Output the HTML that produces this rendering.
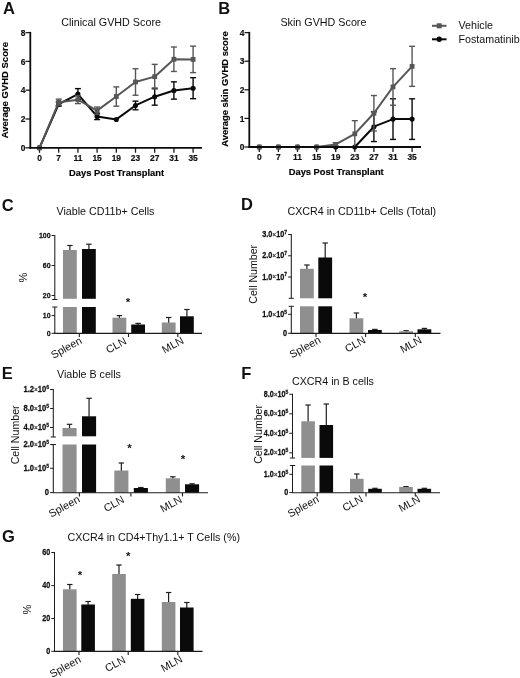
<!DOCTYPE html>
<html lang="en">
<head>
<meta charset="utf-8">
<title>Figure</title>
<style>
html,body{margin:0;padding:0;background:#fff;}
body{width:520px;height:678px;overflow:hidden;}
svg{display:block;font-family:"Liberation Sans",sans-serif;}
</style>
</head>
<body>
<svg width="520" height="678" viewBox="0 0 520 678">
<rect x="0" y="0" width="520" height="678" fill="#ffffff"/>
<text x="2.9" y="13.6" font-size="16.5" font-weight="bold" text-anchor="start" fill="#111">A</text>
<text x="61.2" y="26.0" font-size="10.75" font-weight="normal" text-anchor="start" fill="#111">Clinical GVHD Score</text>
<text x="8.1" y="90.2" font-size="9.5" font-weight="bold" text-anchor="middle" fill="#000" transform="rotate(-90 8.1 90.2)" stroke="#000" stroke-width="0.15">Average GVHD Score</text>
<text x="69.1" y="176.3" font-size="9.35" font-weight="bold" text-anchor="start" fill="#000" stroke="#000" stroke-width="0.15">Days Post Transplant</text>
<line x1="25.5" y1="147.8" x2="30.3" y2="147.8" stroke="#1c1c1c" stroke-width="1.3" stroke-linecap="butt"/>
<text transform="translate(25.3 150.9) scale(1 1.06)" font-size="8.4" font-weight="bold" text-anchor="end" fill="#111" stroke="#111" stroke-width="0.2">0</text>
<line x1="25.5" y1="119.00000000000001" x2="30.3" y2="119.00000000000001" stroke="#1c1c1c" stroke-width="1.3" stroke-linecap="butt"/>
<text transform="translate(25.3 122.1) scale(1 1.06)" font-size="8.4" font-weight="bold" text-anchor="end" fill="#111" stroke="#111" stroke-width="0.2">2</text>
<line x1="25.5" y1="90.20000000000002" x2="30.3" y2="90.20000000000002" stroke="#1c1c1c" stroke-width="1.3" stroke-linecap="butt"/>
<text transform="translate(25.3 93.3) scale(1 1.06)" font-size="8.4" font-weight="bold" text-anchor="end" fill="#111" stroke="#111" stroke-width="0.2">4</text>
<line x1="25.5" y1="61.400000000000006" x2="30.3" y2="61.400000000000006" stroke="#1c1c1c" stroke-width="1.3" stroke-linecap="butt"/>
<text transform="translate(25.3 64.5) scale(1 1.06)" font-size="8.4" font-weight="bold" text-anchor="end" fill="#111" stroke="#111" stroke-width="0.2">6</text>
<line x1="25.5" y1="32.60000000000001" x2="30.3" y2="32.60000000000001" stroke="#1c1c1c" stroke-width="1.3" stroke-linecap="butt"/>
<text transform="translate(25.3 35.7) scale(1 1.06)" font-size="8.4" font-weight="bold" text-anchor="end" fill="#111" stroke="#111" stroke-width="0.2">8</text>
<line x1="39.5" y1="147.8" x2="39.5" y2="152.8" stroke="#1c1c1c" stroke-width="1.3" stroke-linecap="butt"/>
<text transform="translate(39.5 161.2) scale(1 1.06)" font-size="8.4" font-weight="bold" text-anchor="middle" fill="#111" stroke="#111" stroke-width="0.2">0</text>
<line x1="58.7" y1="147.8" x2="58.7" y2="152.8" stroke="#1c1c1c" stroke-width="1.3" stroke-linecap="butt"/>
<text transform="translate(58.7 161.2) scale(1 1.06)" font-size="8.4" font-weight="bold" text-anchor="middle" fill="#111" stroke="#111" stroke-width="0.2">7</text>
<line x1="77.9" y1="147.8" x2="77.9" y2="152.8" stroke="#1c1c1c" stroke-width="1.3" stroke-linecap="butt"/>
<text transform="translate(77.9 161.2) scale(1 1.06)" font-size="8.4" font-weight="bold" text-anchor="middle" fill="#111" stroke="#111" stroke-width="0.2">11</text>
<line x1="97.1" y1="147.8" x2="97.1" y2="152.8" stroke="#1c1c1c" stroke-width="1.3" stroke-linecap="butt"/>
<text transform="translate(97.1 161.2) scale(1 1.06)" font-size="8.4" font-weight="bold" text-anchor="middle" fill="#111" stroke="#111" stroke-width="0.2">15</text>
<line x1="116.3" y1="147.8" x2="116.3" y2="152.8" stroke="#1c1c1c" stroke-width="1.3" stroke-linecap="butt"/>
<text transform="translate(116.3 161.2) scale(1 1.06)" font-size="8.4" font-weight="bold" text-anchor="middle" fill="#111" stroke="#111" stroke-width="0.2">19</text>
<line x1="135.5" y1="147.8" x2="135.5" y2="152.8" stroke="#1c1c1c" stroke-width="1.3" stroke-linecap="butt"/>
<text transform="translate(135.5 161.2) scale(1 1.06)" font-size="8.4" font-weight="bold" text-anchor="middle" fill="#111" stroke="#111" stroke-width="0.2">23</text>
<line x1="154.7" y1="147.8" x2="154.7" y2="152.8" stroke="#1c1c1c" stroke-width="1.3" stroke-linecap="butt"/>
<text transform="translate(154.7 161.2) scale(1 1.06)" font-size="8.4" font-weight="bold" text-anchor="middle" fill="#111" stroke="#111" stroke-width="0.2">27</text>
<line x1="173.9" y1="147.8" x2="173.9" y2="152.8" stroke="#1c1c1c" stroke-width="1.3" stroke-linecap="butt"/>
<text transform="translate(173.9 161.2) scale(1 1.06)" font-size="8.4" font-weight="bold" text-anchor="middle" fill="#111" stroke="#111" stroke-width="0.2">31</text>
<line x1="193.1" y1="147.8" x2="193.1" y2="152.8" stroke="#1c1c1c" stroke-width="1.3" stroke-linecap="butt"/>
<text transform="translate(193.1 161.2) scale(1 1.06)" font-size="8.4" font-weight="bold" text-anchor="middle" fill="#111" stroke="#111" stroke-width="0.2">35</text>
<line x1="58.7" y1="101.864" x2="58.7" y2="106.184" stroke="#0a0a0a" stroke-width="1.4" stroke-linecap="butt"/>
<line x1="55.7" y1="101.864" x2="61.7" y2="101.864" stroke="#0a0a0a" stroke-width="1.4" stroke-linecap="butt"/>
<line x1="55.7" y1="106.184" x2="61.7" y2="106.184" stroke="#0a0a0a" stroke-width="1.4" stroke-linecap="butt"/>
<line x1="77.9" y1="88.61600000000001" x2="77.9" y2="99.56" stroke="#0a0a0a" stroke-width="1.4" stroke-linecap="butt"/>
<line x1="74.9" y1="88.61600000000001" x2="80.9" y2="88.61600000000001" stroke="#0a0a0a" stroke-width="1.4" stroke-linecap="butt"/>
<line x1="74.9" y1="99.56" x2="80.9" y2="99.56" stroke="#0a0a0a" stroke-width="1.4" stroke-linecap="butt"/>
<line x1="97.1" y1="113.24000000000001" x2="97.1" y2="119.57600000000002" stroke="#0a0a0a" stroke-width="1.4" stroke-linecap="butt"/>
<line x1="94.1" y1="113.24000000000001" x2="100.1" y2="113.24000000000001" stroke="#0a0a0a" stroke-width="1.4" stroke-linecap="butt"/>
<line x1="94.1" y1="119.57600000000002" x2="100.1" y2="119.57600000000002" stroke="#0a0a0a" stroke-width="1.4" stroke-linecap="butt"/>
<line x1="135.5" y1="101.144" x2="135.5" y2="109.78400000000002" stroke="#0a0a0a" stroke-width="1.4" stroke-linecap="butt"/>
<line x1="132.5" y1="101.144" x2="138.5" y2="101.144" stroke="#0a0a0a" stroke-width="1.4" stroke-linecap="butt"/>
<line x1="132.5" y1="109.78400000000002" x2="138.5" y2="109.78400000000002" stroke="#0a0a0a" stroke-width="1.4" stroke-linecap="butt"/>
<line x1="154.7" y1="88.18400000000001" x2="154.7" y2="105.176" stroke="#0a0a0a" stroke-width="1.4" stroke-linecap="butt"/>
<line x1="151.7" y1="88.18400000000001" x2="157.7" y2="88.18400000000001" stroke="#0a0a0a" stroke-width="1.4" stroke-linecap="butt"/>
<line x1="151.7" y1="105.176" x2="157.7" y2="105.176" stroke="#0a0a0a" stroke-width="1.4" stroke-linecap="butt"/>
<line x1="173.9" y1="81.84800000000001" x2="173.9" y2="99.12800000000001" stroke="#0a0a0a" stroke-width="1.4" stroke-linecap="butt"/>
<line x1="170.9" y1="81.84800000000001" x2="176.9" y2="81.84800000000001" stroke="#0a0a0a" stroke-width="1.4" stroke-linecap="butt"/>
<line x1="170.9" y1="99.12800000000001" x2="176.9" y2="99.12800000000001" stroke="#0a0a0a" stroke-width="1.4" stroke-linecap="butt"/>
<line x1="193.1" y1="77.67200000000001" x2="193.1" y2="98.69600000000001" stroke="#0a0a0a" stroke-width="1.4" stroke-linecap="butt"/>
<line x1="190.1" y1="77.67200000000001" x2="196.1" y2="77.67200000000001" stroke="#0a0a0a" stroke-width="1.4" stroke-linecap="butt"/>
<line x1="190.1" y1="98.69600000000001" x2="196.1" y2="98.69600000000001" stroke="#0a0a0a" stroke-width="1.4" stroke-linecap="butt"/>
<polyline fill="none" stroke="#0a0a0a" stroke-width="2" stroke-linejoin="round" points="39.50,147.80 58.70,104.02 77.90,94.09 97.10,116.41 116.30,119.43 135.50,105.46 154.70,96.68 173.90,90.49 193.10,88.18"/>
<circle cx="39.50" cy="147.80" r="2.55" fill="#0a0a0a"/>
<circle cx="58.70" cy="104.02" r="2.55" fill="#0a0a0a"/>
<circle cx="77.90" cy="94.09" r="2.55" fill="#0a0a0a"/>
<circle cx="97.10" cy="116.41" r="2.55" fill="#0a0a0a"/>
<circle cx="116.30" cy="119.43" r="2.55" fill="#0a0a0a"/>
<circle cx="135.50" cy="105.46" r="2.55" fill="#0a0a0a"/>
<circle cx="154.70" cy="96.68" r="2.55" fill="#0a0a0a"/>
<circle cx="173.90" cy="90.49" r="2.55" fill="#0a0a0a"/>
<circle cx="193.10" cy="88.18" r="2.55" fill="#0a0a0a"/>
<line x1="58.7" y1="99.128" x2="58.7" y2="105.46400000000001" stroke="#565656" stroke-width="1.4" stroke-linecap="butt"/>
<line x1="55.7" y1="99.128" x2="61.7" y2="99.128" stroke="#565656" stroke-width="1.4" stroke-linecap="butt"/>
<line x1="55.7" y1="105.46400000000001" x2="61.7" y2="105.46400000000001" stroke="#565656" stroke-width="1.4" stroke-linecap="butt"/>
<line x1="77.9" y1="95.816" x2="77.9" y2="103.59200000000001" stroke="#565656" stroke-width="1.4" stroke-linecap="butt"/>
<line x1="74.9" y1="95.816" x2="80.9" y2="95.816" stroke="#565656" stroke-width="1.4" stroke-linecap="butt"/>
<line x1="74.9" y1="103.59200000000001" x2="80.9" y2="103.59200000000001" stroke="#565656" stroke-width="1.4" stroke-linecap="butt"/>
<line x1="97.1" y1="107.04800000000002" x2="97.1" y2="114.248" stroke="#565656" stroke-width="1.4" stroke-linecap="butt"/>
<line x1="94.1" y1="107.04800000000002" x2="100.1" y2="107.04800000000002" stroke="#565656" stroke-width="1.4" stroke-linecap="butt"/>
<line x1="94.1" y1="114.248" x2="100.1" y2="114.248" stroke="#565656" stroke-width="1.4" stroke-linecap="butt"/>
<line x1="116.3" y1="86.888" x2="116.3" y2="106.184" stroke="#565656" stroke-width="1.4" stroke-linecap="butt"/>
<line x1="113.3" y1="86.888" x2="119.3" y2="86.888" stroke="#565656" stroke-width="1.4" stroke-linecap="butt"/>
<line x1="113.3" y1="106.184" x2="119.3" y2="106.184" stroke="#565656" stroke-width="1.4" stroke-linecap="butt"/>
<line x1="135.5" y1="68.744" x2="135.5" y2="95.24000000000001" stroke="#565656" stroke-width="1.4" stroke-linecap="butt"/>
<line x1="132.5" y1="68.744" x2="138.5" y2="68.744" stroke="#565656" stroke-width="1.4" stroke-linecap="butt"/>
<line x1="132.5" y1="95.24000000000001" x2="138.5" y2="95.24000000000001" stroke="#565656" stroke-width="1.4" stroke-linecap="butt"/>
<line x1="154.7" y1="64.352" x2="154.7" y2="88.976" stroke="#565656" stroke-width="1.4" stroke-linecap="butt"/>
<line x1="151.7" y1="64.352" x2="157.7" y2="64.352" stroke="#565656" stroke-width="1.4" stroke-linecap="butt"/>
<line x1="151.7" y1="88.976" x2="157.7" y2="88.976" stroke="#565656" stroke-width="1.4" stroke-linecap="butt"/>
<line x1="173.9" y1="47.00000000000001" x2="173.9" y2="71.48" stroke="#565656" stroke-width="1.4" stroke-linecap="butt"/>
<line x1="170.9" y1="47.00000000000001" x2="176.9" y2="47.00000000000001" stroke="#565656" stroke-width="1.4" stroke-linecap="butt"/>
<line x1="170.9" y1="71.48" x2="176.9" y2="71.48" stroke="#565656" stroke-width="1.4" stroke-linecap="butt"/>
<line x1="193.1" y1="46.13600000000001" x2="193.1" y2="72.63200000000002" stroke="#565656" stroke-width="1.4" stroke-linecap="butt"/>
<line x1="190.1" y1="46.13600000000001" x2="196.1" y2="46.13600000000001" stroke="#565656" stroke-width="1.4" stroke-linecap="butt"/>
<line x1="190.1" y1="72.63200000000002" x2="196.1" y2="72.63200000000002" stroke="#565656" stroke-width="1.4" stroke-linecap="butt"/>
<polyline fill="none" stroke="#565656" stroke-width="2" stroke-linejoin="round" points="39.50,147.80 58.70,102.30 77.90,99.70 97.10,110.65 116.30,96.54 135.50,81.99 154.70,76.66 173.90,59.24 193.10,59.38"/>
<rect x="37.1" y="145.4" width="4.8" height="4.8" fill="#565656"/>
<rect x="56.3" y="99.9" width="4.8" height="4.8" fill="#565656"/>
<rect x="75.5" y="97.3" width="4.8" height="4.8" fill="#565656"/>
<rect x="94.7" y="108.25" width="4.8" height="4.8" fill="#565656"/>
<rect x="113.9" y="94.14" width="4.8" height="4.8" fill="#565656"/>
<rect x="133.1" y="79.59" width="4.8" height="4.8" fill="#565656"/>
<rect x="152.3" y="74.26" width="4.8" height="4.8" fill="#565656"/>
<rect x="171.5" y="56.84" width="4.8" height="4.8" fill="#565656"/>
<rect x="190.7" y="56.98" width="4.8" height="4.8" fill="#565656"/>
<line x1="30.3" y1="31.90000000000001" x2="30.3" y2="148.70000000000002" stroke="#0c0c0c" stroke-width="1.8" stroke-linecap="butt"/>
<line x1="29.400000000000002" y1="147.8" x2="202" y2="147.8" stroke="#0c0c0c" stroke-width="1.8" stroke-linecap="butt"/>
<text x="218.2" y="13.5" font-size="16.5" font-weight="bold" text-anchor="start" fill="#111">B</text>
<text x="280.4" y="26.0" font-size="10.75" font-weight="normal" text-anchor="start" fill="#111">Skin GVHD Score</text>
<text x="227.6" y="89" font-size="9.4" font-weight="bold" text-anchor="middle" fill="#000" transform="rotate(-90 227.6 89)" stroke="#000" stroke-width="0.15">Average skin GVHD score</text>
<text x="288.7" y="175.4" font-size="9.35" font-weight="bold" text-anchor="start" fill="#000" stroke="#000" stroke-width="0.15">Days Post Transplant</text>
<line x1="244.5" y1="147.0" x2="249.3" y2="147.0" stroke="#1c1c1c" stroke-width="1.3" stroke-linecap="butt"/>
<text transform="translate(244.3 150.1) scale(1 1.06)" font-size="8.4" font-weight="bold" text-anchor="end" fill="#111" stroke="#111" stroke-width="0.2">0</text>
<line x1="244.5" y1="118.4" x2="249.3" y2="118.4" stroke="#1c1c1c" stroke-width="1.3" stroke-linecap="butt"/>
<text transform="translate(244.3 121.5) scale(1 1.06)" font-size="8.4" font-weight="bold" text-anchor="end" fill="#111" stroke="#111" stroke-width="0.2">1</text>
<line x1="244.5" y1="89.8" x2="249.3" y2="89.8" stroke="#1c1c1c" stroke-width="1.3" stroke-linecap="butt"/>
<text transform="translate(244.3 92.9) scale(1 1.06)" font-size="8.4" font-weight="bold" text-anchor="end" fill="#111" stroke="#111" stroke-width="0.2">2</text>
<line x1="244.5" y1="61.19999999999999" x2="249.3" y2="61.19999999999999" stroke="#1c1c1c" stroke-width="1.3" stroke-linecap="butt"/>
<text transform="translate(244.3 64.3) scale(1 1.06)" font-size="8.4" font-weight="bold" text-anchor="end" fill="#111" stroke="#111" stroke-width="0.2">3</text>
<line x1="244.5" y1="32.599999999999994" x2="249.3" y2="32.599999999999994" stroke="#1c1c1c" stroke-width="1.3" stroke-linecap="butt"/>
<text transform="translate(244.3 35.7) scale(1 1.06)" font-size="8.4" font-weight="bold" text-anchor="end" fill="#111" stroke="#111" stroke-width="0.2">4</text>
<line x1="259.3" y1="147" x2="259.3" y2="152.0" stroke="#1c1c1c" stroke-width="1.3" stroke-linecap="butt"/>
<text transform="translate(259.3 160.4) scale(1 1.06)" font-size="8.4" font-weight="bold" text-anchor="middle" fill="#111" stroke="#111" stroke-width="0.2">0</text>
<line x1="278.40000000000003" y1="147" x2="278.40000000000003" y2="152.0" stroke="#1c1c1c" stroke-width="1.3" stroke-linecap="butt"/>
<text transform="translate(278.4 160.4) scale(1 1.06)" font-size="8.4" font-weight="bold" text-anchor="middle" fill="#111" stroke="#111" stroke-width="0.2">7</text>
<line x1="297.5" y1="147" x2="297.5" y2="152.0" stroke="#1c1c1c" stroke-width="1.3" stroke-linecap="butt"/>
<text transform="translate(297.5 160.4) scale(1 1.06)" font-size="8.4" font-weight="bold" text-anchor="middle" fill="#111" stroke="#111" stroke-width="0.2">11</text>
<line x1="316.6" y1="147" x2="316.6" y2="152.0" stroke="#1c1c1c" stroke-width="1.3" stroke-linecap="butt"/>
<text transform="translate(316.6 160.4) scale(1 1.06)" font-size="8.4" font-weight="bold" text-anchor="middle" fill="#111" stroke="#111" stroke-width="0.2">15</text>
<line x1="335.70000000000005" y1="147" x2="335.70000000000005" y2="152.0" stroke="#1c1c1c" stroke-width="1.3" stroke-linecap="butt"/>
<text transform="translate(335.7 160.4) scale(1 1.06)" font-size="8.4" font-weight="bold" text-anchor="middle" fill="#111" stroke="#111" stroke-width="0.2">19</text>
<line x1="354.8" y1="147" x2="354.8" y2="152.0" stroke="#1c1c1c" stroke-width="1.3" stroke-linecap="butt"/>
<text transform="translate(354.8 160.4) scale(1 1.06)" font-size="8.4" font-weight="bold" text-anchor="middle" fill="#111" stroke="#111" stroke-width="0.2">23</text>
<line x1="373.90000000000003" y1="147" x2="373.90000000000003" y2="152.0" stroke="#1c1c1c" stroke-width="1.3" stroke-linecap="butt"/>
<text transform="translate(373.9 160.4) scale(1 1.06)" font-size="8.4" font-weight="bold" text-anchor="middle" fill="#111" stroke="#111" stroke-width="0.2">27</text>
<line x1="393.0" y1="147" x2="393.0" y2="152.0" stroke="#1c1c1c" stroke-width="1.3" stroke-linecap="butt"/>
<text transform="translate(393.0 160.4) scale(1 1.06)" font-size="8.4" font-weight="bold" text-anchor="middle" fill="#111" stroke="#111" stroke-width="0.2">31</text>
<line x1="412.1" y1="147" x2="412.1" y2="152.0" stroke="#1c1c1c" stroke-width="1.3" stroke-linecap="butt"/>
<text transform="translate(412.1 160.4) scale(1 1.06)" font-size="8.4" font-weight="bold" text-anchor="middle" fill="#111" stroke="#111" stroke-width="0.2">35</text>
<line x1="373.90000000000003" y1="111.822" x2="373.90000000000003" y2="141.566" stroke="#0a0a0a" stroke-width="1.4" stroke-linecap="butt"/>
<line x1="370.90000000000003" y1="111.822" x2="376.90000000000003" y2="111.822" stroke="#0a0a0a" stroke-width="1.4" stroke-linecap="butt"/>
<line x1="370.90000000000003" y1="141.566" x2="376.90000000000003" y2="141.566" stroke="#0a0a0a" stroke-width="1.4" stroke-linecap="butt"/>
<line x1="393.0" y1="98.809" x2="393.0" y2="139.421" stroke="#0a0a0a" stroke-width="1.4" stroke-linecap="butt"/>
<line x1="390.0" y1="98.809" x2="396.0" y2="98.809" stroke="#0a0a0a" stroke-width="1.4" stroke-linecap="butt"/>
<line x1="390.0" y1="139.421" x2="396.0" y2="139.421" stroke="#0a0a0a" stroke-width="1.4" stroke-linecap="butt"/>
<line x1="412.1" y1="98.809" x2="412.1" y2="139.421" stroke="#0a0a0a" stroke-width="1.4" stroke-linecap="butt"/>
<line x1="409.1" y1="98.809" x2="415.1" y2="98.809" stroke="#0a0a0a" stroke-width="1.4" stroke-linecap="butt"/>
<line x1="409.1" y1="139.421" x2="415.1" y2="139.421" stroke="#0a0a0a" stroke-width="1.4" stroke-linecap="butt"/>
<polyline fill="none" stroke="#0a0a0a" stroke-width="2" stroke-linejoin="round" points="259.30,147.00 278.40,147.00 297.50,147.00 316.60,147.00 335.70,147.00 354.80,147.00 373.90,126.69 393.00,119.11 412.10,119.11"/>
<circle cx="259.30" cy="147.00" r="2.55" fill="#0a0a0a"/>
<circle cx="278.40" cy="147.00" r="2.55" fill="#0a0a0a"/>
<circle cx="297.50" cy="147.00" r="2.55" fill="#0a0a0a"/>
<circle cx="316.60" cy="147.00" r="2.55" fill="#0a0a0a"/>
<circle cx="335.70" cy="147.00" r="2.55" fill="#0a0a0a"/>
<circle cx="354.80" cy="147.00" r="2.55" fill="#0a0a0a"/>
<circle cx="373.90" cy="126.69" r="2.55" fill="#0a0a0a"/>
<circle cx="393.00" cy="119.11" r="2.55" fill="#0a0a0a"/>
<circle cx="412.10" cy="119.11" r="2.55" fill="#0a0a0a"/>
<line x1="335.70000000000005" y1="142.70999999999998" x2="335.70000000000005" y2="146.142" stroke="#565656" stroke-width="1.4" stroke-linecap="butt"/>
<line x1="332.70000000000005" y1="142.70999999999998" x2="338.70000000000005" y2="142.70999999999998" stroke="#565656" stroke-width="1.4" stroke-linecap="butt"/>
<line x1="332.70000000000005" y1="146.142" x2="338.70000000000005" y2="146.142" stroke="#565656" stroke-width="1.4" stroke-linecap="butt"/>
<line x1="354.8" y1="120.68799999999999" x2="354.8" y2="147.0" stroke="#565656" stroke-width="1.4" stroke-linecap="butt"/>
<line x1="351.8" y1="120.68799999999999" x2="357.8" y2="120.68799999999999" stroke="#565656" stroke-width="1.4" stroke-linecap="butt"/>
<line x1="373.90000000000003" y1="95.52000000000001" x2="373.90000000000003" y2="130.984" stroke="#565656" stroke-width="1.4" stroke-linecap="butt"/>
<line x1="370.90000000000003" y1="95.52000000000001" x2="376.90000000000003" y2="95.52000000000001" stroke="#565656" stroke-width="1.4" stroke-linecap="butt"/>
<line x1="370.90000000000003" y1="130.984" x2="376.90000000000003" y2="130.984" stroke="#565656" stroke-width="1.4" stroke-linecap="butt"/>
<line x1="393.0" y1="68.636" x2="393.0" y2="105.244" stroke="#565656" stroke-width="1.4" stroke-linecap="butt"/>
<line x1="390.0" y1="68.636" x2="396.0" y2="68.636" stroke="#565656" stroke-width="1.4" stroke-linecap="butt"/>
<line x1="390.0" y1="105.244" x2="396.0" y2="105.244" stroke="#565656" stroke-width="1.4" stroke-linecap="butt"/>
<line x1="412.1" y1="46.328" x2="412.1" y2="86.368" stroke="#565656" stroke-width="1.4" stroke-linecap="butt"/>
<line x1="409.1" y1="46.328" x2="415.1" y2="46.328" stroke="#565656" stroke-width="1.4" stroke-linecap="butt"/>
<line x1="409.1" y1="86.368" x2="415.1" y2="86.368" stroke="#565656" stroke-width="1.4" stroke-linecap="butt"/>
<polyline fill="none" stroke="#565656" stroke-width="2" stroke-linejoin="round" points="259.30,147.00 278.40,147.00 297.50,147.00 316.60,147.00 335.70,144.43 354.80,133.84 373.90,113.25 393.00,86.94 412.10,66.35"/>
<rect x="256.9" y="144.6" width="4.8" height="4.8" fill="#565656"/>
<rect x="276.0" y="144.6" width="4.8" height="4.8" fill="#565656"/>
<rect x="295.1" y="144.6" width="4.8" height="4.8" fill="#565656"/>
<rect x="314.2" y="144.6" width="4.8" height="4.8" fill="#565656"/>
<rect x="333.3" y="142.03" width="4.8" height="4.8" fill="#565656"/>
<rect x="352.4" y="131.44" width="4.8" height="4.8" fill="#565656"/>
<rect x="371.5" y="110.85" width="4.8" height="4.8" fill="#565656"/>
<rect x="390.6" y="84.54" width="4.8" height="4.8" fill="#565656"/>
<rect x="409.7" y="63.95" width="4.8" height="4.8" fill="#565656"/>
<line x1="249.3" y1="31.899999999999995" x2="249.3" y2="147.9" stroke="#0c0c0c" stroke-width="1.8" stroke-linecap="butt"/>
<line x1="248.4" y1="147" x2="421" y2="147" stroke="#0c0c0c" stroke-width="1.8" stroke-linecap="butt"/>
<line x1="432" y1="25.8" x2="446.5" y2="25.8" stroke="#565656" stroke-width="2" stroke-linecap="butt"/>
<rect x="436.7" y="23.3" width="5" height="5" fill="#565656"/>
<text x="458.5" y="28.8" font-size="10.7" font-weight="normal" text-anchor="start" fill="#111">Vehicle</text>
<line x1="432" y1="39.3" x2="446.5" y2="39.3" stroke="#0a0a0a" stroke-width="2" stroke-linecap="butt"/>
<circle cx="439.2" cy="39.3" r="2.7" fill="#0a0a0a"/>
<text x="458.5" y="42.599999999999994" font-size="10.7" font-weight="normal" text-anchor="start" fill="#111">Fostamatinib</text>
<text x="1.8" y="210.6" font-size="16.5" font-weight="bold" text-anchor="start" fill="#111">C</text>
<text x="56.5" y="215.2" font-size="10.7" font-weight="normal" text-anchor="start" fill="#111">Viable CD11b+ Cells</text>
<text x="27.2" y="277.5" font-size="11.2" font-weight="normal" text-anchor="middle" fill="#111" transform="rotate(-90 27.2 277.5)">%</text>
<line x1="69.9" y1="245.5" x2="69.9" y2="250.5" stroke="#1e1e1e" stroke-width="1.2" stroke-linecap="butt"/>
<line x1="67.2" y1="245.5" x2="72.60000000000001" y2="245.5" stroke="#1e1e1e" stroke-width="1.2" stroke-linecap="butt"/>
<rect x="63" y="250" width="13.8" height="48.8" fill="#8f8f8f"/>
<rect x="63" y="307" width="13.8" height="26.4" fill="#8f8f8f"/>
<line x1="88.9" y1="244.2" x2="88.9" y2="249.5" stroke="#1e1e1e" stroke-width="1.2" stroke-linecap="butt"/>
<line x1="86.2" y1="244.2" x2="91.60000000000001" y2="244.2" stroke="#1e1e1e" stroke-width="1.2" stroke-linecap="butt"/>
<rect x="82" y="249" width="13.8" height="49.8" fill="#0a0a0a"/>
<rect x="82" y="307" width="13.8" height="26.4" fill="#0a0a0a"/>
<line x1="119.4" y1="315.6" x2="119.4" y2="318.2" stroke="#1e1e1e" stroke-width="1.2" stroke-linecap="butt"/>
<line x1="116.7" y1="315.6" x2="122.10000000000001" y2="315.6" stroke="#1e1e1e" stroke-width="1.2" stroke-linecap="butt"/>
<rect x="112.5" y="317.7" width="13.8" height="15.7" fill="#8f8f8f"/>
<line x1="138.1" y1="323.4" x2="138.1" y2="325.0" stroke="#1e1e1e" stroke-width="1.2" stroke-linecap="butt"/>
<line x1="135.4" y1="323.4" x2="140.79999999999998" y2="323.4" stroke="#1e1e1e" stroke-width="1.2" stroke-linecap="butt"/>
<rect x="131.2" y="324.5" width="13.8" height="8.9" fill="#0a0a0a"/>
<line x1="168.70000000000002" y1="317.5" x2="168.70000000000002" y2="323.0" stroke="#1e1e1e" stroke-width="1.2" stroke-linecap="butt"/>
<line x1="166.00000000000003" y1="317.5" x2="171.4" y2="317.5" stroke="#1e1e1e" stroke-width="1.2" stroke-linecap="butt"/>
<rect x="161.8" y="322.5" width="13.8" height="10.9" fill="#8f8f8f"/>
<line x1="186.9" y1="309.5" x2="186.9" y2="316.8" stroke="#1e1e1e" stroke-width="1.2" stroke-linecap="butt"/>
<line x1="184.20000000000002" y1="309.5" x2="189.6" y2="309.5" stroke="#1e1e1e" stroke-width="1.2" stroke-linecap="butt"/>
<rect x="180" y="316.3" width="13.8" height="17.1" fill="#0a0a0a"/>
<line x1="54.8" y1="235.0" x2="54.8" y2="299.5" stroke="#1c1c1c" stroke-width="1.05" stroke-linecap="butt"/>
<line x1="54.8" y1="307" x2="54.8" y2="333.4" stroke="#1c1c1c" stroke-width="1.05" stroke-linecap="butt"/>
<line x1="52.199999999999996" y1="299.5" x2="57.4" y2="299.5" stroke="#1c1c1c" stroke-width="1.0" stroke-linecap="butt"/>
<line x1="52.199999999999996" y1="307" x2="57.4" y2="307" stroke="#1c1c1c" stroke-width="1.0" stroke-linecap="butt"/>
<line x1="54.3" y1="333.4" x2="202" y2="333.4" stroke="#1c1c1c" stroke-width="1.1" stroke-linecap="butt"/>
<line x1="51.599999999999994" y1="235.5" x2="54.8" y2="235.5" stroke="#1c1c1c" stroke-width="1.0" stroke-linecap="butt"/>
<text transform="translate(50.6 238.0) scale(1 1.16)" font-size="7.0" font-weight="bold" text-anchor="end" fill="#111" stroke="#111" stroke-width="0.22">100</text>
<line x1="51.599999999999994" y1="265.5" x2="54.8" y2="265.5" stroke="#1c1c1c" stroke-width="1.0" stroke-linecap="butt"/>
<text transform="translate(50.6 268.0) scale(1 1.16)" font-size="7.0" font-weight="bold" text-anchor="end" fill="#111" stroke="#111" stroke-width="0.22">60</text>
<line x1="51.599999999999994" y1="295.5" x2="54.8" y2="295.5" stroke="#1c1c1c" stroke-width="1.0" stroke-linecap="butt"/>
<text transform="translate(50.6 298.0) scale(1 1.16)" font-size="7.0" font-weight="bold" text-anchor="end" fill="#111" stroke="#111" stroke-width="0.22">20</text>
<line x1="51.599999999999994" y1="315.6" x2="54.8" y2="315.6" stroke="#1c1c1c" stroke-width="1.0" stroke-linecap="butt"/>
<text transform="translate(50.6 318.1) scale(1 1.16)" font-size="7.0" font-weight="bold" text-anchor="end" fill="#111" stroke="#111" stroke-width="0.22">10</text>
<line x1="51.599999999999994" y1="333.3" x2="54.8" y2="333.3" stroke="#1c1c1c" stroke-width="1.0" stroke-linecap="butt"/>
<text transform="translate(50.6 335.8) scale(1 1.16)" font-size="7.0" font-weight="bold" text-anchor="end" fill="#111" stroke="#111" stroke-width="0.22">0</text>
<line x1="79.3" y1="333.4" x2="79.3" y2="337.0" stroke="#1c1c1c" stroke-width="1.1" stroke-linecap="butt"/>
<text x="82.8" y="342.8" font-size="10.8" font-weight="normal" text-anchor="end" fill="#111" transform="rotate(-29 82.8 342.8)">Spleen</text>
<line x1="128.5" y1="333.4" x2="128.5" y2="337.0" stroke="#1c1c1c" stroke-width="1.1" stroke-linecap="butt"/>
<text x="127.3" y="343.3" font-size="10.8" font-weight="normal" text-anchor="end" fill="#111" transform="rotate(-29 127.3 343.3)">CLN</text>
<line x1="177.8" y1="333.4" x2="177.8" y2="337.0" stroke="#1c1c1c" stroke-width="1.1" stroke-linecap="butt"/>
<text x="184.5" y="342.6" font-size="10.8" font-weight="normal" text-anchor="end" fill="#111" transform="rotate(-29 184.5 342.6)">MLN</text>
<text x="128" y="306.4" font-size="11.5" font-weight="bold" text-anchor="middle" fill="#111">*</text>
<text x="240.9" y="210.4" font-size="16.5" font-weight="bold" text-anchor="start" fill="#111">D</text>
<text x="287.5" y="215.2" font-size="10.7" font-weight="normal" text-anchor="start" fill="#111">CXCR4 in CD11b+ Cells (Total)</text>
<text x="257.4" y="274.3" font-size="10.6" font-weight="normal" text-anchor="middle" fill="#111" transform="rotate(-90 257.4 274.3)">Cell Number</text>
<line x1="306.9" y1="265" x2="306.9" y2="269.3" stroke="#1e1e1e" stroke-width="1.2" stroke-linecap="butt"/>
<line x1="304.2" y1="265" x2="309.59999999999997" y2="265" stroke="#1e1e1e" stroke-width="1.2" stroke-linecap="butt"/>
<rect x="300" y="268.8" width="13.8" height="29.5" fill="#8f8f8f"/>
<rect x="300" y="306.3" width="13.8" height="27.1" fill="#8f8f8f"/>
<line x1="325.2" y1="243" x2="325.2" y2="258.0" stroke="#1e1e1e" stroke-width="1.2" stroke-linecap="butt"/>
<line x1="322.5" y1="243" x2="327.9" y2="243" stroke="#1e1e1e" stroke-width="1.2" stroke-linecap="butt"/>
<rect x="318.3" y="257.5" width="13.8" height="40.8" fill="#0a0a0a"/>
<rect x="318.3" y="306.3" width="13.8" height="27.1" fill="#0a0a0a"/>
<line x1="356.4" y1="313" x2="356.4" y2="318.8" stroke="#1e1e1e" stroke-width="1.2" stroke-linecap="butt"/>
<line x1="353.7" y1="313" x2="359.09999999999997" y2="313" stroke="#1e1e1e" stroke-width="1.2" stroke-linecap="butt"/>
<rect x="349.5" y="318.3" width="13.8" height="15.1" fill="#8f8f8f"/>
<line x1="374.9" y1="329.4" x2="374.9" y2="330.5" stroke="#1e1e1e" stroke-width="1.2" stroke-linecap="butt"/>
<line x1="372.2" y1="329.4" x2="377.59999999999997" y2="329.4" stroke="#1e1e1e" stroke-width="1.2" stroke-linecap="butt"/>
<rect x="368" y="330" width="13.8" height="3.4" fill="#0a0a0a"/>
<line x1="406.09999999999997" y1="330.7" x2="406.09999999999997" y2="331.8" stroke="#1e1e1e" stroke-width="1.2" stroke-linecap="butt"/>
<line x1="403.4" y1="330.7" x2="408.79999999999995" y2="330.7" stroke="#1e1e1e" stroke-width="1.2" stroke-linecap="butt"/>
<rect x="399.2" y="331.3" width="13.8" height="2.1" fill="#8f8f8f"/>
<line x1="424.4" y1="328.4" x2="424.4" y2="329.8" stroke="#1e1e1e" stroke-width="1.2" stroke-linecap="butt"/>
<line x1="421.7" y1="328.4" x2="427.09999999999997" y2="328.4" stroke="#1e1e1e" stroke-width="1.2" stroke-linecap="butt"/>
<rect x="417.5" y="329.3" width="13.8" height="4.1" fill="#0a0a0a"/>
<line x1="291.3" y1="234.0" x2="291.3" y2="298.3" stroke="#1c1c1c" stroke-width="1.05" stroke-linecap="butt"/>
<line x1="291.3" y1="306.3" x2="291.3" y2="333.4" stroke="#1c1c1c" stroke-width="1.05" stroke-linecap="butt"/>
<line x1="288.7" y1="298.3" x2="293.90000000000003" y2="298.3" stroke="#1c1c1c" stroke-width="1.0" stroke-linecap="butt"/>
<line x1="288.7" y1="306.3" x2="293.90000000000003" y2="306.3" stroke="#1c1c1c" stroke-width="1.0" stroke-linecap="butt"/>
<line x1="290.8" y1="333.4" x2="440.5" y2="333.4" stroke="#1c1c1c" stroke-width="1.1" stroke-linecap="butt"/>
<line x1="288.1" y1="234.5" x2="291.3" y2="234.5" stroke="#1c1c1c" stroke-width="1.0" stroke-linecap="butt"/>
<text transform="translate(287.1 237.0) scale(1 1.16)" font-size="7.3" font-weight="bold" text-anchor="end" fill="#111" stroke="#111" stroke-width="0.22">3.0<tspan font-size="6.6" font-weight="normal" dy="-0.2" fill="#444">×</tspan><tspan dy="0.2">10</tspan><tspan font-size="5" dy="-2.6">7</tspan></text>
<line x1="288.1" y1="255.8" x2="291.3" y2="255.8" stroke="#1c1c1c" stroke-width="1.0" stroke-linecap="butt"/>
<text transform="translate(287.1 258.3) scale(1 1.16)" font-size="7.3" font-weight="bold" text-anchor="end" fill="#111" stroke="#111" stroke-width="0.22">2.0<tspan font-size="6.6" font-weight="normal" dy="-0.2" fill="#444">×</tspan><tspan dy="0.2">10</tspan><tspan font-size="5" dy="-2.6">7</tspan></text>
<line x1="288.1" y1="277" x2="291.3" y2="277" stroke="#1c1c1c" stroke-width="1.0" stroke-linecap="butt"/>
<text transform="translate(287.1 279.5) scale(1 1.16)" font-size="7.3" font-weight="bold" text-anchor="end" fill="#111" stroke="#111" stroke-width="0.22">1.0<tspan font-size="6.6" font-weight="normal" dy="-0.2" fill="#444">×</tspan><tspan dy="0.2">10</tspan><tspan font-size="5" dy="-2.6">7</tspan></text>
<line x1="288.1" y1="314.3" x2="291.3" y2="314.3" stroke="#1c1c1c" stroke-width="1.0" stroke-linecap="butt"/>
<text transform="translate(287.1 316.8) scale(1 1.16)" font-size="7.3" font-weight="bold" text-anchor="end" fill="#111" stroke="#111" stroke-width="0.22">1.0<tspan font-size="6.6" font-weight="normal" dy="-0.2" fill="#444">×</tspan><tspan dy="0.2">10</tspan><tspan font-size="5" dy="-2.6">5</tspan></text>
<line x1="288.1" y1="333.3" x2="291.3" y2="333.3" stroke="#1c1c1c" stroke-width="1.0" stroke-linecap="butt"/>
<text transform="translate(287.1 335.8) scale(1 1.16)" font-size="7.3" font-weight="bold" text-anchor="end" fill="#111" stroke="#111" stroke-width="0.22">0</text>
<line x1="316" y1="333.4" x2="316" y2="337.0" stroke="#1c1c1c" stroke-width="1.1" stroke-linecap="butt"/>
<text x="321.4" y="342.1" font-size="10.8" font-weight="normal" text-anchor="end" fill="#111" transform="rotate(-29 321.4 342.1)">Spleen</text>
<line x1="365.6" y1="333.4" x2="365.6" y2="337.0" stroke="#1c1c1c" stroke-width="1.1" stroke-linecap="butt"/>
<text x="366.4" y="342.2" font-size="10.8" font-weight="normal" text-anchor="end" fill="#111" transform="rotate(-29 366.4 342.2)">CLN</text>
<line x1="415.3" y1="333.4" x2="415.3" y2="337.0" stroke="#1c1c1c" stroke-width="1.1" stroke-linecap="butt"/>
<text x="422.7" y="342.3" font-size="10.8" font-weight="normal" text-anchor="end" fill="#111" transform="rotate(-29 422.7 342.3)">MLN</text>
<text x="365" y="301.4" font-size="11.5" font-weight="bold" text-anchor="middle" fill="#111">*</text>
<text x="1.7" y="379.4" font-size="16.5" font-weight="bold" text-anchor="start" fill="#111">E</text>
<text x="57" y="377.6" font-size="10.7" font-weight="normal" text-anchor="start" fill="#111">Viable B cells</text>
<text x="19.3" y="434.9" font-size="10.6" font-weight="normal" text-anchor="middle" fill="#111" transform="rotate(-90 19.3 434.9)">Cell Number</text>
<line x1="69.55" y1="424.3" x2="69.55" y2="428.5" stroke="#1e1e1e" stroke-width="1.2" stroke-linecap="butt"/>
<line x1="66.85" y1="424.3" x2="72.25" y2="424.3" stroke="#1e1e1e" stroke-width="1.2" stroke-linecap="butt"/>
<rect x="62.5" y="428" width="14.1" height="8.3" fill="#8f8f8f"/>
<rect x="62.5" y="444.5" width="14.1" height="48.3" fill="#8f8f8f"/>
<line x1="89.05" y1="398.3" x2="89.05" y2="416.8" stroke="#1e1e1e" stroke-width="1.2" stroke-linecap="butt"/>
<line x1="86.35" y1="398.3" x2="91.75" y2="398.3" stroke="#1e1e1e" stroke-width="1.2" stroke-linecap="butt"/>
<rect x="82" y="416.3" width="14.1" height="20.0" fill="#0a0a0a"/>
<rect x="82" y="444.5" width="14.1" height="48.3" fill="#0a0a0a"/>
<line x1="121.35" y1="463" x2="121.35" y2="471.0" stroke="#1e1e1e" stroke-width="1.2" stroke-linecap="butt"/>
<line x1="118.64999999999999" y1="463" x2="124.05" y2="463" stroke="#1e1e1e" stroke-width="1.2" stroke-linecap="butt"/>
<rect x="114.3" y="470.5" width="14.1" height="22.3" fill="#8f8f8f"/>
<line x1="140.85000000000002" y1="487.5" x2="140.85000000000002" y2="488.5" stroke="#1e1e1e" stroke-width="1.2" stroke-linecap="butt"/>
<line x1="138.15000000000003" y1="487.5" x2="143.55" y2="487.5" stroke="#1e1e1e" stroke-width="1.2" stroke-linecap="butt"/>
<rect x="133.8" y="488" width="14.1" height="4.8" fill="#0a0a0a"/>
<line x1="172.85000000000002" y1="476.8" x2="172.85000000000002" y2="478.8" stroke="#1e1e1e" stroke-width="1.2" stroke-linecap="butt"/>
<line x1="170.15000000000003" y1="476.8" x2="175.55" y2="476.8" stroke="#1e1e1e" stroke-width="1.2" stroke-linecap="butt"/>
<rect x="165.8" y="478.3" width="14.1" height="14.5" fill="#8f8f8f"/>
<line x1="192.05" y1="483.8" x2="192.05" y2="484.8" stroke="#1e1e1e" stroke-width="1.2" stroke-linecap="butt"/>
<line x1="189.35000000000002" y1="483.8" x2="194.75" y2="483.8" stroke="#1e1e1e" stroke-width="1.2" stroke-linecap="butt"/>
<rect x="185" y="484.3" width="14.1" height="8.5" fill="#0a0a0a"/>
<line x1="53.3" y1="389.0" x2="53.3" y2="437" stroke="#1c1c1c" stroke-width="1.05" stroke-linecap="butt"/>
<line x1="53.3" y1="444.5" x2="53.3" y2="492.8" stroke="#1c1c1c" stroke-width="1.05" stroke-linecap="butt"/>
<line x1="50.699999999999996" y1="437" x2="55.9" y2="437" stroke="#1c1c1c" stroke-width="1.0" stroke-linecap="butt"/>
<line x1="50.699999999999996" y1="444.5" x2="55.9" y2="444.5" stroke="#1c1c1c" stroke-width="1.0" stroke-linecap="butt"/>
<line x1="52.8" y1="492.8" x2="208" y2="492.8" stroke="#1c1c1c" stroke-width="1.1" stroke-linecap="butt"/>
<line x1="50.099999999999994" y1="389.5" x2="53.3" y2="389.5" stroke="#1c1c1c" stroke-width="1.0" stroke-linecap="butt"/>
<text transform="translate(49.1 392.0) scale(1 1.16)" font-size="7.6" font-weight="bold" text-anchor="end" fill="#111" stroke="#111" stroke-width="0.22">1.2<tspan font-size="6.6" font-weight="normal" dy="-0.2" fill="#444">×</tspan><tspan dy="0.2">10</tspan><tspan font-size="5" dy="-2.6">6</tspan></text>
<line x1="50.099999999999994" y1="408.5" x2="53.3" y2="408.5" stroke="#1c1c1c" stroke-width="1.0" stroke-linecap="butt"/>
<text transform="translate(49.1 411.0) scale(1 1.16)" font-size="7.6" font-weight="bold" text-anchor="end" fill="#111" stroke="#111" stroke-width="0.22">8.0<tspan font-size="6.6" font-weight="normal" dy="-0.2" fill="#444">×</tspan><tspan dy="0.2">10</tspan><tspan font-size="5" dy="-2.6">5</tspan></text>
<line x1="50.099999999999994" y1="427.5" x2="53.3" y2="427.5" stroke="#1c1c1c" stroke-width="1.0" stroke-linecap="butt"/>
<text transform="translate(49.1 430.0) scale(1 1.16)" font-size="7.6" font-weight="bold" text-anchor="end" fill="#111" stroke="#111" stroke-width="0.22">4.0<tspan font-size="6.6" font-weight="normal" dy="-0.2" fill="#444">×</tspan><tspan dy="0.2">10</tspan><tspan font-size="5" dy="-2.6">5</tspan></text>
<line x1="50.099999999999994" y1="444.6" x2="53.3" y2="444.6" stroke="#1c1c1c" stroke-width="1.0" stroke-linecap="butt"/>
<text transform="translate(49.1 447.1) scale(1 1.16)" font-size="7.6" font-weight="bold" text-anchor="end" fill="#111" stroke="#111" stroke-width="0.22">2.0<tspan font-size="6.6" font-weight="normal" dy="-0.2" fill="#444">×</tspan><tspan dy="0.2">10</tspan><tspan font-size="5" dy="-2.6">5</tspan></text>
<line x1="50.099999999999994" y1="468.3" x2="53.3" y2="468.3" stroke="#1c1c1c" stroke-width="1.0" stroke-linecap="butt"/>
<text transform="translate(49.1 470.8) scale(1 1.16)" font-size="7.6" font-weight="bold" text-anchor="end" fill="#111" stroke="#111" stroke-width="0.22">1.0<tspan font-size="6.6" font-weight="normal" dy="-0.2" fill="#444">×</tspan><tspan dy="0.2">10</tspan><tspan font-size="5" dy="-2.6">5</tspan></text>
<line x1="50.099999999999994" y1="492.6" x2="53.3" y2="492.6" stroke="#1c1c1c" stroke-width="1.0" stroke-linecap="butt"/>
<text transform="translate(49.1 495.1) scale(1 1.16)" font-size="7.6" font-weight="bold" text-anchor="end" fill="#111" stroke="#111" stroke-width="0.22">0</text>
<line x1="79.4" y1="492.8" x2="79.4" y2="496.40000000000003" stroke="#1c1c1c" stroke-width="1.1" stroke-linecap="butt"/>
<text x="80.7" y="501.4" font-size="10.8" font-weight="normal" text-anchor="end" fill="#111" transform="rotate(-29 80.7 501.4)">Spleen</text>
<line x1="130.9" y1="492.8" x2="130.9" y2="496.40000000000003" stroke="#1c1c1c" stroke-width="1.1" stroke-linecap="butt"/>
<text x="125.2" y="501.7" font-size="10.8" font-weight="normal" text-anchor="end" fill="#111" transform="rotate(-29 125.2 501.7)">CLN</text>
<line x1="182.5" y1="492.8" x2="182.5" y2="496.40000000000003" stroke="#1c1c1c" stroke-width="1.1" stroke-linecap="butt"/>
<text x="182.8" y="501.6" font-size="10.8" font-weight="normal" text-anchor="end" fill="#111" transform="rotate(-29 182.8 501.6)">MLN</text>
<text x="129.5" y="452.2" font-size="11.5" font-weight="bold" text-anchor="middle" fill="#111">*</text>
<text x="183" y="462.7" font-size="11.5" font-weight="bold" text-anchor="middle" fill="#111">*</text>
<text x="241.3" y="379.4" font-size="16.5" font-weight="bold" text-anchor="start" fill="#111">F</text>
<text x="292" y="384.5" font-size="10.7" font-weight="normal" text-anchor="start" fill="#111">CXCR4 in B cells</text>
<text x="261.9" y="434.4" font-size="10.6" font-weight="normal" text-anchor="middle" fill="#111" transform="rotate(-90 261.9 434.4)">Cell Number</text>
<line x1="308.1" y1="405" x2="308.1" y2="421.8" stroke="#1e1e1e" stroke-width="1.2" stroke-linecap="butt"/>
<line x1="305.40000000000003" y1="405" x2="310.8" y2="405" stroke="#1e1e1e" stroke-width="1.2" stroke-linecap="butt"/>
<rect x="301.3" y="421.3" width="13.6" height="36.6" fill="#8f8f8f"/>
<rect x="301.3" y="465.5" width="13.6" height="27.3" fill="#8f8f8f"/>
<line x1="326.3" y1="404" x2="326.3" y2="425.5" stroke="#1e1e1e" stroke-width="1.2" stroke-linecap="butt"/>
<line x1="323.6" y1="404" x2="329.0" y2="404" stroke="#1e1e1e" stroke-width="1.2" stroke-linecap="butt"/>
<rect x="319.5" y="425" width="13.6" height="32.9" fill="#0a0a0a"/>
<rect x="319.5" y="465.5" width="13.6" height="27.3" fill="#0a0a0a"/>
<line x1="356.8" y1="474" x2="356.8" y2="479.3" stroke="#1e1e1e" stroke-width="1.2" stroke-linecap="butt"/>
<line x1="354.1" y1="474" x2="359.5" y2="474" stroke="#1e1e1e" stroke-width="1.2" stroke-linecap="butt"/>
<rect x="350" y="478.8" width="13.6" height="14.0" fill="#8f8f8f"/>
<line x1="375.0" y1="488.3" x2="375.0" y2="489.3" stroke="#1e1e1e" stroke-width="1.2" stroke-linecap="butt"/>
<line x1="372.3" y1="488.3" x2="377.7" y2="488.3" stroke="#1e1e1e" stroke-width="1.2" stroke-linecap="butt"/>
<rect x="368.2" y="488.8" width="13.6" height="4.0" fill="#0a0a0a"/>
<line x1="406.0" y1="486.6" x2="406.0" y2="487.5" stroke="#1e1e1e" stroke-width="1.2" stroke-linecap="butt"/>
<line x1="403.3" y1="486.6" x2="408.7" y2="486.6" stroke="#1e1e1e" stroke-width="1.2" stroke-linecap="butt"/>
<rect x="399.2" y="487" width="13.6" height="5.8" fill="#8f8f8f"/>
<line x1="424.3" y1="488.3" x2="424.3" y2="489.3" stroke="#1e1e1e" stroke-width="1.2" stroke-linecap="butt"/>
<line x1="421.6" y1="488.3" x2="427.0" y2="488.3" stroke="#1e1e1e" stroke-width="1.2" stroke-linecap="butt"/>
<rect x="417.5" y="488.8" width="13.6" height="4.0" fill="#0a0a0a"/>
<line x1="292.5" y1="393.8" x2="292.5" y2="458" stroke="#1c1c1c" stroke-width="1.05" stroke-linecap="butt"/>
<line x1="292.5" y1="465.5" x2="292.5" y2="492.8" stroke="#1c1c1c" stroke-width="1.05" stroke-linecap="butt"/>
<line x1="289.9" y1="458" x2="295.1" y2="458" stroke="#1c1c1c" stroke-width="1.0" stroke-linecap="butt"/>
<line x1="289.9" y1="465.5" x2="295.1" y2="465.5" stroke="#1c1c1c" stroke-width="1.0" stroke-linecap="butt"/>
<line x1="292.0" y1="492.8" x2="440" y2="492.8" stroke="#1c1c1c" stroke-width="1.1" stroke-linecap="butt"/>
<line x1="289.3" y1="394.3" x2="292.5" y2="394.3" stroke="#1c1c1c" stroke-width="1.0" stroke-linecap="butt"/>
<text transform="translate(288.3 396.8) scale(1 1.16)" font-size="7.2" font-weight="bold" text-anchor="end" fill="#111" stroke="#111" stroke-width="0.22">8.0<tspan font-size="6.6" font-weight="normal" dy="-0.2" fill="#444">×</tspan><tspan dy="0.2">10</tspan><tspan font-size="5" dy="-2.6">5</tspan></text>
<line x1="289.3" y1="413.8" x2="292.5" y2="413.8" stroke="#1c1c1c" stroke-width="1.0" stroke-linecap="butt"/>
<text transform="translate(288.3 416.3) scale(1 1.16)" font-size="7.2" font-weight="bold" text-anchor="end" fill="#111" stroke="#111" stroke-width="0.22">6.0<tspan font-size="6.6" font-weight="normal" dy="-0.2" fill="#444">×</tspan><tspan dy="0.2">10</tspan><tspan font-size="5" dy="-2.6">5</tspan></text>
<line x1="289.3" y1="433.3" x2="292.5" y2="433.3" stroke="#1c1c1c" stroke-width="1.0" stroke-linecap="butt"/>
<text transform="translate(288.3 435.8) scale(1 1.16)" font-size="7.2" font-weight="bold" text-anchor="end" fill="#111" stroke="#111" stroke-width="0.22">4.0<tspan font-size="6.6" font-weight="normal" dy="-0.2" fill="#444">×</tspan><tspan dy="0.2">10</tspan><tspan font-size="5" dy="-2.6">5</tspan></text>
<line x1="289.3" y1="452.8" x2="292.5" y2="452.8" stroke="#1c1c1c" stroke-width="1.0" stroke-linecap="butt"/>
<text transform="translate(288.3 455.3) scale(1 1.16)" font-size="7.2" font-weight="bold" text-anchor="end" fill="#111" stroke="#111" stroke-width="0.22">2.0<tspan font-size="6.6" font-weight="normal" dy="-0.2" fill="#444">×</tspan><tspan dy="0.2">10</tspan><tspan font-size="5" dy="-2.6">5</tspan></text>
<line x1="289.3" y1="474.3" x2="292.5" y2="474.3" stroke="#1c1c1c" stroke-width="1.0" stroke-linecap="butt"/>
<text transform="translate(288.3 476.8) scale(1 1.16)" font-size="7.2" font-weight="bold" text-anchor="end" fill="#111" stroke="#111" stroke-width="0.22">1.0<tspan font-size="6.6" font-weight="normal" dy="-0.2" fill="#444">×</tspan><tspan dy="0.2">10</tspan><tspan font-size="5" dy="-2.6">5</tspan></text>
<line x1="289.3" y1="492.6" x2="292.5" y2="492.6" stroke="#1c1c1c" stroke-width="1.0" stroke-linecap="butt"/>
<text transform="translate(288.3 495.1) scale(1 1.16)" font-size="7.2" font-weight="bold" text-anchor="end" fill="#111" stroke="#111" stroke-width="0.22">0</text>
<line x1="317.2" y1="492.8" x2="317.2" y2="496.40000000000003" stroke="#1c1c1c" stroke-width="1.1" stroke-linecap="butt"/>
<text x="319.7" y="501.4" font-size="10.8" font-weight="normal" text-anchor="end" fill="#111" transform="rotate(-29 319.7 501.4)">Spleen</text>
<line x1="366" y1="492.8" x2="366" y2="496.40000000000003" stroke="#1c1c1c" stroke-width="1.1" stroke-linecap="butt"/>
<text x="363.9" y="501.2" font-size="10.8" font-weight="normal" text-anchor="end" fill="#111" transform="rotate(-29 363.9 501.2)">CLN</text>
<line x1="415.3" y1="492.8" x2="415.3" y2="496.40000000000003" stroke="#1c1c1c" stroke-width="1.1" stroke-linecap="butt"/>
<text x="421.2" y="501.2" font-size="10.8" font-weight="normal" text-anchor="end" fill="#111" transform="rotate(-29 421.2 501.2)">MLN</text>
<text x="2.1" y="542" font-size="16.5" font-weight="bold" text-anchor="start" fill="#111">G</text>
<text x="67.5" y="541" font-size="10.7" font-weight="normal" text-anchor="start" fill="#111">CXCR4 in CD4+Thy1.1+ T Cells (%)</text>
<text x="30.8" y="609.4" font-size="11.2" font-weight="normal" text-anchor="middle" fill="#111" transform="rotate(-90 30.8 609.4)">%</text>
<line x1="69.8" y1="584.5" x2="69.8" y2="589.8" stroke="#1e1e1e" stroke-width="1.2" stroke-linecap="butt"/>
<line x1="67.1" y1="584.5" x2="72.5" y2="584.5" stroke="#1e1e1e" stroke-width="1.2" stroke-linecap="butt"/>
<rect x="63" y="589.3" width="13.6" height="62.1" fill="#8f8f8f"/>
<line x1="88.1" y1="601.5" x2="88.1" y2="605.0" stroke="#1e1e1e" stroke-width="1.2" stroke-linecap="butt"/>
<line x1="85.39999999999999" y1="601.5" x2="90.8" y2="601.5" stroke="#1e1e1e" stroke-width="1.2" stroke-linecap="butt"/>
<rect x="81.3" y="604.5" width="13.6" height="46.9" fill="#0a0a0a"/>
<line x1="119.0" y1="565" x2="119.0" y2="574.5" stroke="#1e1e1e" stroke-width="1.2" stroke-linecap="butt"/>
<line x1="116.3" y1="565" x2="121.7" y2="565" stroke="#1e1e1e" stroke-width="1.2" stroke-linecap="butt"/>
<rect x="112.2" y="574" width="13.6" height="77.4" fill="#8f8f8f"/>
<line x1="137.60000000000002" y1="594.5" x2="137.60000000000002" y2="599.3" stroke="#1e1e1e" stroke-width="1.2" stroke-linecap="butt"/>
<line x1="134.90000000000003" y1="594.5" x2="140.3" y2="594.5" stroke="#1e1e1e" stroke-width="1.2" stroke-linecap="butt"/>
<rect x="130.8" y="598.8" width="13.6" height="52.6" fill="#0a0a0a"/>
<line x1="168.60000000000002" y1="592.5" x2="168.60000000000002" y2="602.5" stroke="#1e1e1e" stroke-width="1.2" stroke-linecap="butt"/>
<line x1="165.90000000000003" y1="592.5" x2="171.3" y2="592.5" stroke="#1e1e1e" stroke-width="1.2" stroke-linecap="butt"/>
<rect x="161.8" y="602" width="13.6" height="49.4" fill="#8f8f8f"/>
<line x1="186.8" y1="602.5" x2="186.8" y2="608.0" stroke="#1e1e1e" stroke-width="1.2" stroke-linecap="butt"/>
<line x1="184.10000000000002" y1="602.5" x2="189.5" y2="602.5" stroke="#1e1e1e" stroke-width="1.2" stroke-linecap="butt"/>
<rect x="180" y="607.5" width="13.6" height="43.9" fill="#0a0a0a"/>
<line x1="54.5" y1="552.0" x2="54.5" y2="651.4" stroke="#1c1c1c" stroke-width="1.05" stroke-linecap="butt"/>
<line x1="54.0" y1="651.4" x2="202.5" y2="651.4" stroke="#1c1c1c" stroke-width="1.1" stroke-linecap="butt"/>
<line x1="51.3" y1="552.5" x2="54.5" y2="552.5" stroke="#1c1c1c" stroke-width="1.0" stroke-linecap="butt"/>
<text transform="translate(50.3 555.0) scale(1 1.16)" font-size="7.2" font-weight="bold" text-anchor="end" fill="#111" stroke="#111" stroke-width="0.22">60</text>
<line x1="51.3" y1="585.6" x2="54.5" y2="585.6" stroke="#1c1c1c" stroke-width="1.0" stroke-linecap="butt"/>
<text transform="translate(50.3 588.1) scale(1 1.16)" font-size="7.2" font-weight="bold" text-anchor="end" fill="#111" stroke="#111" stroke-width="0.22">40</text>
<line x1="51.3" y1="618.5" x2="54.5" y2="618.5" stroke="#1c1c1c" stroke-width="1.0" stroke-linecap="butt"/>
<text transform="translate(50.3 621.0) scale(1 1.16)" font-size="7.2" font-weight="bold" text-anchor="end" fill="#111" stroke="#111" stroke-width="0.22">20</text>
<line x1="51.3" y1="651.3" x2="54.5" y2="651.3" stroke="#1c1c1c" stroke-width="1.0" stroke-linecap="butt"/>
<text transform="translate(50.3 653.8) scale(1 1.16)" font-size="7.2" font-weight="bold" text-anchor="end" fill="#111" stroke="#111" stroke-width="0.22">0</text>
<line x1="79" y1="651.4" x2="79" y2="655.0" stroke="#1c1c1c" stroke-width="1.1" stroke-linecap="butt"/>
<text x="81.7" y="661.6" font-size="10.8" font-weight="normal" text-anchor="end" fill="#111" transform="rotate(-29 81.7 661.6)">Spleen</text>
<line x1="128.2" y1="651.4" x2="128.2" y2="655.0" stroke="#1c1c1c" stroke-width="1.1" stroke-linecap="butt"/>
<text x="126.3" y="661.9" font-size="10.8" font-weight="normal" text-anchor="end" fill="#111" transform="rotate(-29 126.3 661.9)">CLN</text>
<line x1="177.8" y1="651.4" x2="177.8" y2="655.0" stroke="#1c1c1c" stroke-width="1.1" stroke-linecap="butt"/>
<text x="183.4" y="661.1" font-size="10.8" font-weight="normal" text-anchor="end" fill="#111" transform="rotate(-29 183.4 661.1)">MLN</text>
<text x="80" y="578.9" font-size="11.5" font-weight="bold" text-anchor="middle" fill="#111">*</text>
<text x="128.3" y="560.2" font-size="11.5" font-weight="bold" text-anchor="middle" fill="#111">*</text>
</svg>
</body>
</html>
